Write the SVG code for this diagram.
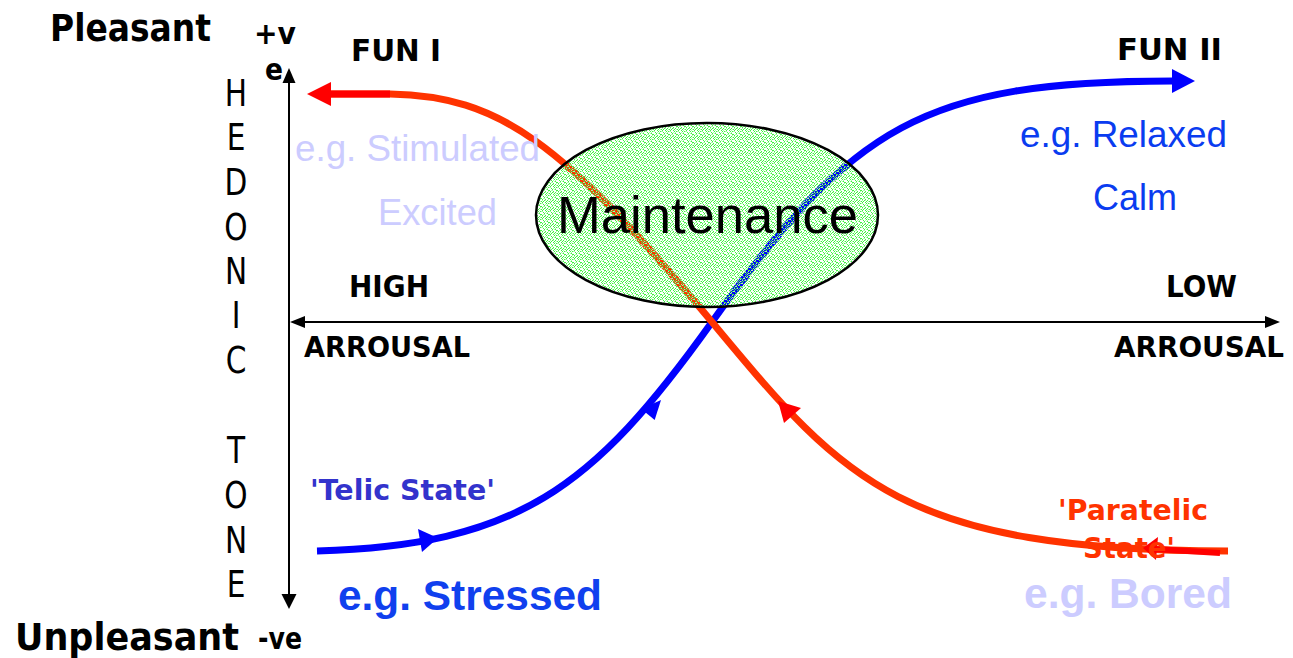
<svg xmlns="http://www.w3.org/2000/svg" width="1293" height="658" viewBox="0 0 1293 658">
<style>
.b{font-family:"DejaVu Sans",Verdana,sans-serif;font-weight:bold;fill:#000}
.ax{font-family:"DejaVu Sans",Verdana,sans-serif;font-size:37px;fill:#000;text-anchor:middle}
.ar{font-family:"Liberation Sans",Arial,sans-serif;font-size:36px}
.arb{font-family:"Liberation Sans",Arial,sans-serif;font-size:42px;font-weight:bold}
.pale{fill:#ccccff}
.blue{fill:#0a3cf0}
.axis{stroke:#000;stroke-width:2;fill:none}
.bc{stroke:#0000ff;stroke-width:7;fill:none}
.rc{stroke:#ff3300;stroke-width:7;fill:none}
</style>
<defs>
<pattern id="stip" width="8" height="8" patternUnits="userSpaceOnUse">
<g fill="#40f040">
<rect x="0" y="0" width="1" height="1"/><rect x="3" y="0" width="1" height="1"/><rect x="5" y="1" width="1" height="1"/><rect x="1" y="2" width="1" height="1"/><rect x="6" y="2" width="1" height="1"/><rect x="2" y="3" width="1" height="1"/><rect x="4" y="3" width="1" height="1"/><rect x="7" y="4" width="1" height="1"/><rect x="0" y="5" width="1" height="1"/><rect x="3" y="5" width="1" height="1"/><rect x="5" y="6" width="1" height="1"/><rect x="1" y="7" width="1" height="1"/><rect x="6" y="7" width="1" height="1"/><rect x="2" y="1" width="1" height="1"/><rect x="7" y="1" width="1" height="1"/><rect x="4" y="6" width="1" height="1"/>
</g>
<g fill="#aaffaa">
<rect x="1" y="0" width="1" height="1"/><rect x="6" y="0" width="1" height="1"/><rect x="4" y="1" width="1" height="1"/><rect x="3" y="2" width="1" height="1"/><rect x="6" y="3" width="1" height="1"/><rect x="1" y="4" width="1" height="1"/><rect x="3" y="4" width="1" height="1"/><rect x="2" y="5" width="1" height="1"/><rect x="7" y="6" width="1" height="1"/><rect x="0" y="6" width="1" height="1"/><rect x="4" y="7" width="1" height="1"/><rect x="5" y="3" width="1" height="1"/>
</g>
</pattern>
</defs>
<rect width="1293" height="658" fill="#fff"/>

<g id="axes">
<line class="axis" x1="289" y1="80" x2="289" y2="596"/>
<polygon points="289,68 282.5,83 295.5,83" fill="#000"/>
<polygon points="289,609 281.5,594 296.5,594" fill="#000"/>
<line class="axis" x1="302" y1="322" x2="1268" y2="322"/>
<polygon points="290,322 305,316 305,328" fill="#000"/>
<polygon points="1280,322 1265,316 1265,328" fill="#000"/>
</g>

<g id="connectors">
<g id="telic-curve">
<path class="bc" d="M317,551 C517,545 592,490 712,322 C852,126 923,81 1173,81"/>
<polygon points="1195,81 1172,69 1172,93" fill="#0000ff"/>
<polygon points="438,538 418,529 422,552" fill="#0000ff"/>
<polygon points="661,400 654.7,420 641.3,409" fill="#0000ff"/>
</g>
<g id="paratelic-curve">
<path class="rc" d="M330,94 L390,94 C500,96 562,142 712,322 C842,478 898,551 1228,551"/>
<line x1="328" y1="94" x2="390" y2="94" stroke="#ff0000" stroke-width="7"/>
<polygon points="307,94 331,82 331,106" fill="#ff0000"/>
<polygon points="778,401 801,408 784,423" fill="#ff0000"/>
<line x1="1155" y1="549" x2="1220" y2="553" stroke="#ff0000" stroke-width="6"/>
<polygon points="1143,548 1158,537 1156,560" fill="#ff0000"/>
</g>
</g>

<g id="maintenance">
<ellipse cx="707" cy="215" rx="171" ry="92" fill="url(#stip)" stroke="#000" stroke-width="2.5"/>
<text x="557" y="233" font-family="Liberation Sans, Arial, sans-serif" font-size="52" fill="#000" textLength="301" lengthAdjust="spacingAndGlyphs">Maintenance</text>
</g>

<g id="hedonic-tone-label">
<g transform="translate(236,0) scale(0.8,1)">
<text class="ax" x="0" y="106">H</text>
<text class="ax" x="0" y="150">E</text>
<text class="ax" x="0" y="195">D</text>
<text class="ax" x="0" y="240">O</text>
<text class="ax" x="0" y="284">N</text>
<text class="ax" x="0" y="328">I</text>
<text class="ax" x="0" y="373">C</text>
<text class="ax" x="0" y="463">T</text>
<text class="ax" x="0" y="508">O</text>
<text class="ax" x="0" y="553">N</text>
<text class="ax" x="0" y="597">E</text>
</g>
</g>

<g id="pole-labels">
<text class="b" x="50" y="41" font-size="37" textLength="161" lengthAdjust="spacingAndGlyphs">Pleasant</text>
<text class="b" x="254" y="44" font-size="30" textLength="42" lengthAdjust="spacingAndGlyphs">+v</text>
<text class="b" x="265" y="80" font-size="30" textLength="18" lengthAdjust="spacingAndGlyphs">e</text>
<text class="b" x="15" y="650" font-size="37" textLength="224" lengthAdjust="spacingAndGlyphs">Unpleasant</text>
<text class="b" x="258" y="649" font-size="30" textLength="44" lengthAdjust="spacingAndGlyphs">-ve</text>
</g>

<g id="arousal-labels">
<text class="b" x="349" y="297" font-size="31" textLength="80" lengthAdjust="spacingAndGlyphs">HIGH</text>
<text class="b" x="304" y="357" font-size="28" textLength="166" lengthAdjust="spacingAndGlyphs">ARROUSAL</text>
<text class="b" x="1166" y="297" font-size="31" textLength="71" lengthAdjust="spacingAndGlyphs">LOW</text>
<text class="b" x="1114" y="357" font-size="28" textLength="170" lengthAdjust="spacingAndGlyphs">ARROUSAL</text>
</g>

<g id="fun1">
<text class="b" x="351" y="61" font-size="31" textLength="90" lengthAdjust="spacingAndGlyphs">FUN I</text>
<text class="ar pale" x="295" y="161" textLength="245" lengthAdjust="spacingAndGlyphs">e.g. Stimulated</text>
<text class="ar pale" x="378" y="225" textLength="119" lengthAdjust="spacingAndGlyphs">Excited</text>
</g>

<g id="fun2">
<text class="b" x="1117" y="60" font-size="31" textLength="105" lengthAdjust="spacingAndGlyphs">FUN II</text>
<text class="ar blue" x="1020" y="147" textLength="207" lengthAdjust="spacingAndGlyphs">e.g. Relaxed</text>
<text class="ar blue" x="1093" y="210" textLength="84" lengthAdjust="spacingAndGlyphs">Calm</text>
</g>

<g id="telic">
<text class="b" x="310" y="500" font-size="29" style="fill:#3333cc" textLength="185" lengthAdjust="spacingAndGlyphs">'Telic State'</text>
<text class="arb" x="338" y="610" fill="#1040ee" textLength="264" lengthAdjust="spacingAndGlyphs">e.g. Stressed</text>
</g>

<g id="paratelic">
<text class="b" x="1058" y="520" font-size="29" style="fill:#ff3300" textLength="150" lengthAdjust="spacingAndGlyphs">'Paratelic</text>
<text class="b" x="1083" y="558" font-size="29" style="fill:#ff3300" textLength="92" lengthAdjust="spacingAndGlyphs">State'</text>
<text class="arb pale" x="1024" y="608" textLength="208" lengthAdjust="spacingAndGlyphs">e.g. Bored</text>
</g>
</svg>
